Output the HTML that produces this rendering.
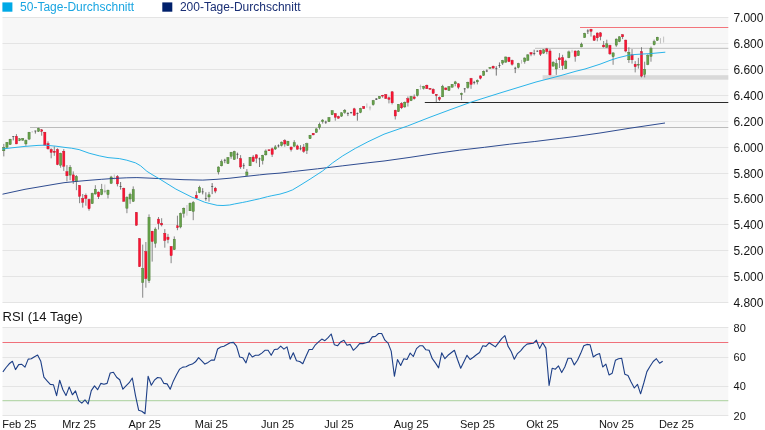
<!DOCTYPE html><html><head><meta charset="utf-8"><title>Chart</title><style>
html,body{margin:0;padding:0;background:#fff}body{width:765px;height:430px;overflow:hidden;position:relative;font-family:"Liberation Sans",Arial,sans-serif}
svg{position:absolute;left:0;top:0;display:block}text{font-family:"Liberation Sans",Arial,sans-serif}
</style></head><body>
<svg width="765" height="430" viewBox="0 0 765 430" style="will-change:transform">
<rect x="0" y="0" width="765" height="430" fill="#ffffff"/>
<rect x="2.5" y="17" width="725.8" height="286" fill="#f7f7f7"/>
<rect x="2.5" y="327" width="725.8" height="89" fill="#f7f7f7"/>
<g fill="#e4e4e4">
<rect x="2.5" y="17" width="725.8" height="1"/>
<rect x="2.5" y="43" width="725.8" height="1"/>
<rect x="2.5" y="69" width="725.8" height="1"/>
<rect x="2.5" y="95" width="725.8" height="1"/>
<rect x="2.5" y="121" width="725.8" height="1"/>
<rect x="2.5" y="147" width="725.8" height="1"/>
<rect x="2.5" y="173" width="725.8" height="1"/>
<rect x="2.5" y="198" width="725.8" height="1"/>
<rect x="2.5" y="224" width="725.8" height="1"/>
<rect x="2.5" y="250" width="725.8" height="1"/>
<rect x="2.5" y="276" width="725.8" height="1"/>
<rect x="2.5" y="302" width="725.8" height="1"/>
<rect x="2.5" y="327" width="725.8" height="1"/>
<rect x="2.5" y="357" width="725.8" height="1"/>
<rect x="2.5" y="386" width="725.8" height="1"/>
<rect x="2.5" y="415" width="725.8" height="1"/>
</g>
<g font-size="12" fill="#141414">
<text x="733.4" y="21.80">7.000</text>
<text x="733.4" y="47.80">6.800</text>
<text x="733.4" y="73.80">6.600</text>
<text x="733.4" y="99.80">6.400</text>
<text x="733.4" y="125.80">6.200</text>
<text x="733.4" y="151.80">6.000</text>
<text x="733.4" y="177.80">5.800</text>
<text x="733.4" y="202.80">5.600</text>
<text x="733.4" y="228.80">5.400</text>
<text x="733.4" y="254.80">5.200</text>
<text x="733.4" y="280.80">5.000</text>
<text x="733.4" y="306.80">4.800</text>
<text x="733.6" y="332.20" font-size="11">80</text>
<text x="733.6" y="361.40" font-size="11">60</text>
<text x="733.6" y="390.40" font-size="11">40</text>
<text x="733.6" y="420.00" font-size="11">20</text>
</g>
<line x1="30" y1="127.5" x2="728.3" y2="127.5" stroke="#bcbcbc" stroke-width="1"/>
<rect x="542.6" y="75.2" width="185.7" height="4.5" fill="#d9d9d9"/>
<line x1="535" y1="48.35" x2="728.3" y2="48.35" stroke="#c9c9c9" stroke-width="1.15"/>
<line x1="580" y1="27.5" x2="728.3" y2="27.5" stroke="#f2646c" stroke-width="0.9"/>
<line x1="424.8" y1="102.5" x2="728.3" y2="102.5" stroke="#2a2a2a" stroke-width="1"/>
<line x1="3.80" y1="143.9" x2="3.80" y2="156.4" stroke="#555555" stroke-width="0.7"/>
<rect x="2.70" y="147.6" width="2.2" height="3.2" fill="#66a24a" stroke="#44742e" stroke-width="0.4"/>
<line x1="6.96" y1="142.0" x2="6.96" y2="147.6" stroke="#555555" stroke-width="0.7"/>
<rect x="5.86" y="142.4" width="2.2" height="5.0" fill="#66a24a" stroke="#44742e" stroke-width="0.4"/>
<line x1="10.11" y1="138.8" x2="10.11" y2="144.9" stroke="#555555" stroke-width="0.7"/>
<rect x="9.01" y="139.2" width="2.2" height="5.3" fill="#66a24a" stroke="#44742e" stroke-width="0.4"/>
<line x1="13.27" y1="136.1" x2="13.27" y2="140.4" stroke="#3a3a3a" stroke-width="0.7"/>
<rect x="12.17" y="136.4" width="2.2" height="0.6" fill="#3a3a3a"/>
<line x1="16.43" y1="134.1" x2="16.43" y2="144.1" stroke="#555555" stroke-width="0.7"/>
<rect x="15.33" y="136.3" width="2.2" height="7.6" fill="#fa1432" stroke="#c4102a" stroke-width="0.4"/>
<line x1="19.59" y1="138.2" x2="19.59" y2="141.1" stroke="#555555" stroke-width="0.7"/>
<rect x="18.48" y="138.8" width="2.2" height="1.6" fill="#66a24a" stroke="#44742e" stroke-width="0.4"/>
<line x1="22.74" y1="138.0" x2="22.74" y2="140.9" stroke="#555555" stroke-width="0.7"/>
<rect x="21.64" y="138.6" width="2.2" height="1.5" fill="#66a24a" stroke="#44742e" stroke-width="0.4"/>
<line x1="25.90" y1="139.5" x2="25.90" y2="145.8" stroke="#555555" stroke-width="0.7"/>
<rect x="24.80" y="140.4" width="2.2" height="3.5" fill="#66a24a" stroke="#44742e" stroke-width="0.4"/>
<line x1="29.06" y1="131.9" x2="29.06" y2="140.1" stroke="#555555" stroke-width="0.7"/>
<rect x="27.96" y="132.3" width="2.2" height="6.8" fill="#66a24a" stroke="#44742e" stroke-width="0.4"/>
<line x1="32.21" y1="131.1" x2="32.21" y2="132.6" stroke="#a9a9a9" stroke-width="0.7"/>
<line x1="35.37" y1="130.7" x2="35.37" y2="133.6" stroke="#3a3a3a" stroke-width="0.7"/>
<rect x="34.27" y="130.7" width="2.2" height="0.6" fill="#3a3a3a"/>
<line x1="38.53" y1="127.8" x2="38.53" y2="131.9" stroke="#555555" stroke-width="0.7"/>
<rect x="37.43" y="128.5" width="2.2" height="2.8" fill="#66a24a" stroke="#44742e" stroke-width="0.4"/>
<line x1="41.68" y1="129.0" x2="41.68" y2="135.7" stroke="#555555" stroke-width="0.7"/>
<rect x="40.58" y="129.8" width="2.2" height="1.5" fill="#fa1432" stroke="#c4102a" stroke-width="0.4"/>
<line x1="44.84" y1="131.9" x2="44.84" y2="145.4" stroke="#555555" stroke-width="0.7"/>
<rect x="43.74" y="132.2" width="2.2" height="12.9" fill="#fa1432" stroke="#c4102a" stroke-width="0.4"/>
<line x1="48.00" y1="141.4" x2="48.00" y2="149.5" stroke="#555555" stroke-width="0.7"/>
<rect x="46.90" y="143.6" width="2.2" height="5.3" fill="#fa1432" stroke="#c4102a" stroke-width="0.4"/>
<line x1="51.16" y1="148.3" x2="51.16" y2="158.3" stroke="#555555" stroke-width="0.7"/>
<rect x="50.05" y="149.5" width="2.2" height="2.9" fill="#fa1432" stroke="#c4102a" stroke-width="0.4"/>
<line x1="54.31" y1="146.4" x2="54.31" y2="155.8" stroke="#555555" stroke-width="0.7"/>
<rect x="53.21" y="151.2" width="2.2" height="1.2" fill="#fa1432" stroke="#c4102a" stroke-width="0.4"/>
<line x1="57.47" y1="148.3" x2="57.47" y2="165.2" stroke="#555555" stroke-width="0.7"/>
<rect x="56.37" y="149.5" width="2.2" height="15.1" fill="#fa1432" stroke="#c4102a" stroke-width="0.4"/>
<line x1="60.63" y1="152.7" x2="60.63" y2="167.7" stroke="#555555" stroke-width="0.7"/>
<rect x="59.53" y="153.3" width="2.2" height="11.9" fill="#66a24a" stroke="#44742e" stroke-width="0.4"/>
<line x1="63.78" y1="149.1" x2="63.78" y2="170.9" stroke="#555555" stroke-width="0.7"/>
<rect x="62.68" y="151.2" width="2.2" height="15.0" fill="#fa1432" stroke="#c4102a" stroke-width="0.4"/>
<line x1="66.94" y1="165.1" x2="66.94" y2="181.4" stroke="#555555" stroke-width="0.7"/>
<rect x="65.84" y="171.6" width="2.2" height="4.2" fill="#fa1432" stroke="#c4102a" stroke-width="0.4"/>
<line x1="70.10" y1="165.1" x2="70.10" y2="180.2" stroke="#555555" stroke-width="0.7"/>
<rect x="69.00" y="167.3" width="2.2" height="7.8" fill="#66a24a" stroke="#44742e" stroke-width="0.4"/>
<line x1="73.25" y1="171.4" x2="73.25" y2="183.9" stroke="#555555" stroke-width="0.7"/>
<rect x="72.15" y="174.9" width="2.2" height="5.9" fill="#fa1432" stroke="#c4102a" stroke-width="0.4"/>
<line x1="76.41" y1="175.1" x2="76.41" y2="190.2" stroke="#555555" stroke-width="0.7"/>
<rect x="75.31" y="176.6" width="2.2" height="5.1" fill="#66a24a" stroke="#44742e" stroke-width="0.4"/>
<line x1="79.57" y1="185.2" x2="79.57" y2="203.2" stroke="#555555" stroke-width="0.7"/>
<rect x="78.47" y="185.4" width="2.2" height="10.9" fill="#fa1432" stroke="#c4102a" stroke-width="0.4"/>
<line x1="82.72" y1="194.0" x2="82.72" y2="207.6" stroke="#555555" stroke-width="0.7"/>
<rect x="81.62" y="198.5" width="2.2" height="3.8" fill="#fa1432" stroke="#c4102a" stroke-width="0.4"/>
<line x1="85.88" y1="193.5" x2="85.88" y2="205.7" stroke="#555555" stroke-width="0.7"/>
<rect x="84.78" y="195.3" width="2.2" height="3.2" fill="#fa1432" stroke="#c4102a" stroke-width="0.4"/>
<line x1="89.04" y1="198.7" x2="89.04" y2="210.7" stroke="#555555" stroke-width="0.7"/>
<rect x="87.94" y="199.4" width="2.2" height="9.4" fill="#fa1432" stroke="#c4102a" stroke-width="0.4"/>
<line x1="92.20" y1="192.7" x2="92.20" y2="203.8" stroke="#555555" stroke-width="0.7"/>
<rect x="91.10" y="193.5" width="2.2" height="10.1" fill="#66a24a" stroke="#44742e" stroke-width="0.4"/>
<line x1="95.35" y1="185.2" x2="95.35" y2="194.6" stroke="#555555" stroke-width="0.7"/>
<rect x="94.25" y="189.2" width="2.2" height="4.8" fill="#66a24a" stroke="#44742e" stroke-width="0.4"/>
<line x1="98.51" y1="191.5" x2="98.51" y2="199.0" stroke="#555555" stroke-width="0.7"/>
<rect x="97.41" y="192.1" width="2.2" height="4.6" fill="#fa1432" stroke="#c4102a" stroke-width="0.4"/>
<line x1="101.67" y1="183.9" x2="101.67" y2="195.2" stroke="#555555" stroke-width="0.7"/>
<rect x="100.57" y="189.2" width="2.2" height="5.4" fill="#66a24a" stroke="#44742e" stroke-width="0.4"/>
<line x1="104.82" y1="184.5" x2="104.82" y2="193.3" stroke="#a9a9a9" stroke-width="0.7"/>
<rect x="103.72" y="190.5" width="2.2" height="1.6" fill="#a9a9a9"/>
<line x1="107.98" y1="189.6" x2="107.98" y2="198.4" stroke="#555555" stroke-width="0.7"/>
<rect x="106.88" y="190.2" width="2.2" height="4.4" fill="#66a24a" stroke="#44742e" stroke-width="0.4"/>
<line x1="111.14" y1="175.8" x2="111.14" y2="183.9" stroke="#555555" stroke-width="0.7"/>
<rect x="110.04" y="177.0" width="2.2" height="6.3" fill="#66a24a" stroke="#44742e" stroke-width="0.4"/>
<line x1="114.30" y1="174.5" x2="114.30" y2="179.5" stroke="#a9a9a9" stroke-width="0.7"/>
<line x1="117.45" y1="175.1" x2="117.45" y2="186.4" stroke="#555555" stroke-width="0.7"/>
<rect x="116.35" y="176.6" width="2.2" height="7.3" fill="#fa1432" stroke="#c4102a" stroke-width="0.4"/>
<line x1="120.61" y1="182.0" x2="120.61" y2="189.6" stroke="#3a3a3a" stroke-width="0.7"/>
<rect x="119.51" y="186.1" width="2.2" height="0.6" fill="#3a3a3a"/>
<line x1="123.77" y1="187.7" x2="123.77" y2="201.6" stroke="#555555" stroke-width="0.7"/>
<rect x="122.67" y="188.3" width="2.2" height="13.0" fill="#fa1432" stroke="#c4102a" stroke-width="0.4"/>
<line x1="126.92" y1="196.3" x2="126.92" y2="213.2" stroke="#555555" stroke-width="0.7"/>
<rect x="125.82" y="197.3" width="2.2" height="10.9" fill="#66a24a" stroke="#44742e" stroke-width="0.4"/>
<line x1="130.08" y1="192.7" x2="130.08" y2="203.8" stroke="#555555" stroke-width="0.7"/>
<rect x="128.98" y="194.4" width="2.2" height="4.6" fill="#66a24a" stroke="#44742e" stroke-width="0.4"/>
<line x1="133.24" y1="186.4" x2="133.24" y2="202.0" stroke="#555555" stroke-width="0.7"/>
<rect x="132.14" y="189.6" width="2.2" height="11.7" fill="#66a24a" stroke="#44742e" stroke-width="0.4"/>
<line x1="136.39" y1="212.0" x2="136.39" y2="225.8" stroke="#555555" stroke-width="0.7"/>
<rect x="135.29" y="212.4" width="2.2" height="12.8" fill="#fa1432" stroke="#c4102a" stroke-width="0.4"/>
<line x1="139.55" y1="238.0" x2="139.55" y2="267.0" stroke="#555555" stroke-width="0.7"/>
<rect x="138.45" y="238.7" width="2.2" height="27.9" fill="#fa1432" stroke="#c4102a" stroke-width="0.4"/>
<line x1="142.71" y1="244.6" x2="142.71" y2="297.7" stroke="#555555" stroke-width="0.7"/>
<rect x="141.61" y="268.6" width="2.2" height="13.8" fill="#66a24a" stroke="#44742e" stroke-width="0.4"/>
<line x1="145.87" y1="242.0" x2="145.87" y2="287.7" stroke="#555555" stroke-width="0.7"/>
<rect x="144.77" y="251.5" width="2.2" height="27.1" fill="#fa1432" stroke="#c4102a" stroke-width="0.4"/>
<line x1="149.02" y1="214.4" x2="149.02" y2="283.0" stroke="#555555" stroke-width="0.7"/>
<rect x="147.92" y="217.3" width="2.2" height="63.5" fill="#66a24a" stroke="#44742e" stroke-width="0.4"/>
<line x1="152.18" y1="230.8" x2="152.18" y2="261.6" stroke="#555555" stroke-width="0.7"/>
<rect x="151.08" y="231.2" width="2.2" height="10.3" fill="#fa1432" stroke="#c4102a" stroke-width="0.4"/>
<line x1="155.34" y1="227.4" x2="155.34" y2="247.7" stroke="#555555" stroke-width="0.7"/>
<rect x="154.24" y="229.1" width="2.2" height="14.2" fill="#66a24a" stroke="#44742e" stroke-width="0.4"/>
<line x1="158.49" y1="217.0" x2="158.49" y2="229.5" stroke="#555555" stroke-width="0.7"/>
<rect x="157.39" y="219.1" width="2.2" height="4.5" fill="#fa1432" stroke="#c4102a" stroke-width="0.4"/>
<line x1="161.65" y1="218.2" x2="161.65" y2="226.4" stroke="#555555" stroke-width="0.7"/>
<rect x="160.55" y="223.2" width="2.2" height="1.7" fill="#fa1432" stroke="#c4102a" stroke-width="0.4"/>
<line x1="164.81" y1="229.1" x2="164.81" y2="247.7" stroke="#555555" stroke-width="0.7"/>
<rect x="163.71" y="233.3" width="2.2" height="7.2" fill="#fa1432" stroke="#c4102a" stroke-width="0.4"/>
<line x1="167.96" y1="233.9" x2="167.96" y2="243.3" stroke="#555555" stroke-width="0.7"/>
<rect x="166.86" y="237.1" width="2.2" height="2.5" fill="#fa1432" stroke="#c4102a" stroke-width="0.4"/>
<line x1="171.12" y1="246.0" x2="171.12" y2="263.2" stroke="#555555" stroke-width="0.7"/>
<rect x="170.02" y="246.5" width="2.2" height="9.2" fill="#fa1432" stroke="#c4102a" stroke-width="0.4"/>
<line x1="174.28" y1="236.4" x2="174.28" y2="250.0" stroke="#555555" stroke-width="0.7"/>
<rect x="173.18" y="239.2" width="2.2" height="10.4" fill="#66a24a" stroke="#44742e" stroke-width="0.4"/>
<line x1="177.44" y1="215.7" x2="177.44" y2="230.2" stroke="#555555" stroke-width="0.7"/>
<rect x="176.34" y="225.8" width="2.2" height="1.8" fill="#fa1432" stroke="#c4102a" stroke-width="0.4"/>
<line x1="180.59" y1="212.6" x2="180.59" y2="228.3" stroke="#555555" stroke-width="0.7"/>
<rect x="179.49" y="213.6" width="2.2" height="13.4" fill="#66a24a" stroke="#44742e" stroke-width="0.4"/>
<line x1="183.75" y1="207.5" x2="183.75" y2="217.6" stroke="#555555" stroke-width="0.7"/>
<rect x="182.65" y="208.2" width="2.2" height="5.0" fill="#66a24a" stroke="#44742e" stroke-width="0.4"/>
<line x1="186.91" y1="205.0" x2="186.91" y2="215.7" stroke="#a9a9a9" stroke-width="0.7"/>
<line x1="190.06" y1="202.5" x2="190.06" y2="211.0" stroke="#555555" stroke-width="0.7"/>
<rect x="188.96" y="203.2" width="2.2" height="7.6" fill="#66a24a" stroke="#44742e" stroke-width="0.4"/>
<line x1="193.22" y1="201.1" x2="193.22" y2="220.2" stroke="#555555" stroke-width="0.7"/>
<rect x="192.12" y="202.6" width="2.2" height="8.8" fill="#66a24a" stroke="#44742e" stroke-width="0.4"/>
<line x1="196.38" y1="191.3" x2="196.38" y2="198.8" stroke="#555555" stroke-width="0.7"/>
<rect x="195.28" y="195.3" width="2.2" height="2.9" fill="#fa1432" stroke="#c4102a" stroke-width="0.4"/>
<line x1="199.53" y1="185.7" x2="199.53" y2="193.2" stroke="#555555" stroke-width="0.7"/>
<rect x="198.43" y="187.5" width="2.2" height="5.1" fill="#66a24a" stroke="#44742e" stroke-width="0.4"/>
<line x1="202.69" y1="188.2" x2="202.69" y2="194.4" stroke="#3a3a3a" stroke-width="0.7"/>
<rect x="201.59" y="191.6" width="2.2" height="0.6" fill="#3a3a3a"/>
<line x1="205.85" y1="192.3" x2="205.85" y2="200.7" stroke="#3a3a3a" stroke-width="0.7"/>
<rect x="204.75" y="198.3" width="2.2" height="0.6" fill="#3a3a3a"/>
<line x1="209.01" y1="191.9" x2="209.01" y2="201.6" stroke="#555555" stroke-width="0.7"/>
<rect x="207.91" y="194.8" width="2.2" height="2.2" fill="#66a24a" stroke="#44742e" stroke-width="0.4"/>
<line x1="212.16" y1="183.1" x2="212.16" y2="194.1" stroke="#3a3a3a" stroke-width="0.7"/>
<rect x="211.06" y="186.0" width="2.2" height="0.6" fill="#3a3a3a"/>
<line x1="215.32" y1="186.9" x2="215.32" y2="193.2" stroke="#555555" stroke-width="0.7"/>
<rect x="214.22" y="188.2" width="2.2" height="2.9" fill="#fa1432" stroke="#c4102a" stroke-width="0.4"/>
<line x1="218.48" y1="166.4" x2="218.48" y2="174.5" stroke="#555555" stroke-width="0.7"/>
<rect x="217.38" y="167.0" width="2.2" height="5.0" fill="#66a24a" stroke="#44742e" stroke-width="0.4"/>
<line x1="221.63" y1="159.5" x2="221.63" y2="166.4" stroke="#555555" stroke-width="0.7"/>
<rect x="220.53" y="161.6" width="2.2" height="4.2" fill="#66a24a" stroke="#44742e" stroke-width="0.4"/>
<line x1="224.79" y1="158.8" x2="224.79" y2="163.2" stroke="#3a3a3a" stroke-width="0.7"/>
<rect x="223.69" y="159.9" width="2.2" height="0.6" fill="#3a3a3a"/>
<line x1="227.95" y1="157.0" x2="227.95" y2="163.9" stroke="#555555" stroke-width="0.7"/>
<rect x="226.85" y="157.6" width="2.2" height="6.0" fill="#66a24a" stroke="#44742e" stroke-width="0.4"/>
<line x1="231.10" y1="151.9" x2="231.10" y2="158.8" stroke="#555555" stroke-width="0.7"/>
<rect x="230.00" y="152.3" width="2.2" height="4.0" fill="#66a24a" stroke="#44742e" stroke-width="0.4"/>
<line x1="234.26" y1="150.7" x2="234.26" y2="159.8" stroke="#555555" stroke-width="0.7"/>
<rect x="233.16" y="151.6" width="2.2" height="7.9" fill="#66a24a" stroke="#44742e" stroke-width="0.4"/>
<line x1="237.42" y1="152.6" x2="237.42" y2="158.8" stroke="#3a3a3a" stroke-width="0.7"/>
<rect x="236.32" y="153.9" width="2.2" height="0.6" fill="#3a3a3a"/>
<line x1="240.58" y1="155.1" x2="240.58" y2="168.9" stroke="#555555" stroke-width="0.7"/>
<rect x="239.48" y="158.6" width="2.2" height="8.4" fill="#fa1432" stroke="#c4102a" stroke-width="0.4"/>
<line x1="243.73" y1="163.2" x2="243.73" y2="168.9" stroke="#3a3a3a" stroke-width="0.7"/>
<rect x="242.63" y="165.5" width="2.2" height="0.6" fill="#3a3a3a"/>
<line x1="246.89" y1="169.1" x2="246.89" y2="175.8" stroke="#555555" stroke-width="0.7"/>
<rect x="245.79" y="172.0" width="2.2" height="3.2" fill="#66a24a" stroke="#44742e" stroke-width="0.4"/>
<line x1="250.05" y1="157.0" x2="250.05" y2="166.1" stroke="#555555" stroke-width="0.7"/>
<rect x="248.95" y="157.3" width="2.2" height="8.5" fill="#66a24a" stroke="#44742e" stroke-width="0.4"/>
<line x1="253.20" y1="155.1" x2="253.20" y2="162.0" stroke="#555555" stroke-width="0.7"/>
<rect x="252.10" y="157.0" width="2.2" height="4.4" fill="#fa1432" stroke="#c4102a" stroke-width="0.4"/>
<line x1="256.36" y1="154.4" x2="256.36" y2="163.2" stroke="#555555" stroke-width="0.7"/>
<rect x="255.26" y="154.8" width="2.2" height="3.4" fill="#fa1432" stroke="#c4102a" stroke-width="0.4"/>
<line x1="259.52" y1="157.6" x2="259.52" y2="167.0" stroke="#3a3a3a" stroke-width="0.7"/>
<rect x="258.42" y="158.6" width="2.2" height="0.6" fill="#3a3a3a"/>
<line x1="262.67" y1="154.8" x2="262.67" y2="164.5" stroke="#555555" stroke-width="0.7"/>
<rect x="261.57" y="155.3" width="2.2" height="5.4" fill="#66a24a" stroke="#44742e" stroke-width="0.4"/>
<line x1="265.83" y1="149.4" x2="265.83" y2="155.7" stroke="#555555" stroke-width="0.7"/>
<rect x="264.73" y="151.0" width="2.2" height="3.8" fill="#66a24a" stroke="#44742e" stroke-width="0.4"/>
<line x1="268.99" y1="149.5" x2="268.99" y2="151.0" stroke="#555555" stroke-width="0.7"/>
<rect x="267.89" y="149.8" width="2.2" height="0.9" fill="#fa1432" stroke="#c4102a" stroke-width="0.4"/>
<line x1="272.15" y1="147.5" x2="272.15" y2="157.0" stroke="#555555" stroke-width="0.7"/>
<rect x="271.05" y="148.8" width="2.2" height="5.6" fill="#fa1432" stroke="#c4102a" stroke-width="0.4"/>
<line x1="275.30" y1="145.0" x2="275.30" y2="150.0" stroke="#555555" stroke-width="0.7"/>
<rect x="274.20" y="146.9" width="2.2" height="2.1" fill="#66a24a" stroke="#44742e" stroke-width="0.4"/>
<line x1="278.46" y1="144.4" x2="278.46" y2="147.5" stroke="#3a3a3a" stroke-width="0.7"/>
<rect x="277.36" y="145.6" width="2.2" height="0.6" fill="#3a3a3a"/>
<line x1="281.62" y1="141.5" x2="281.62" y2="146.5" stroke="#555555" stroke-width="0.7"/>
<rect x="280.52" y="142.1" width="2.2" height="3.4" fill="#66a24a" stroke="#44742e" stroke-width="0.4"/>
<line x1="284.77" y1="139.2" x2="284.77" y2="146.7" stroke="#555555" stroke-width="0.7"/>
<rect x="283.67" y="140.5" width="2.2" height="3.5" fill="#fa1432" stroke="#c4102a" stroke-width="0.4"/>
<line x1="287.93" y1="140.8" x2="287.93" y2="145.9" stroke="#555555" stroke-width="0.7"/>
<rect x="286.83" y="141.2" width="2.2" height="4.3" fill="#66a24a" stroke="#44742e" stroke-width="0.4"/>
<line x1="291.09" y1="146.5" x2="291.09" y2="151.5" stroke="#555555" stroke-width="0.7"/>
<rect x="289.99" y="147.1" width="2.2" height="2.5" fill="#fa1432" stroke="#c4102a" stroke-width="0.4"/>
<line x1="294.24" y1="140.2" x2="294.24" y2="146.7" stroke="#555555" stroke-width="0.7"/>
<rect x="293.14" y="142.7" width="2.2" height="3.5" fill="#66a24a" stroke="#44742e" stroke-width="0.4"/>
<line x1="297.40" y1="144.6" x2="297.40" y2="149.6" stroke="#555555" stroke-width="0.7"/>
<rect x="296.30" y="145.9" width="2.2" height="3.3" fill="#fa1432" stroke="#c4102a" stroke-width="0.4"/>
<line x1="300.56" y1="145.2" x2="300.56" y2="150.3" stroke="#3a3a3a" stroke-width="0.7"/>
<rect x="299.46" y="148.5" width="2.2" height="0.6" fill="#3a3a3a"/>
<line x1="303.72" y1="144.0" x2="303.72" y2="152.8" stroke="#555555" stroke-width="0.7"/>
<rect x="302.62" y="147.1" width="2.2" height="4.2" fill="#fa1432" stroke="#c4102a" stroke-width="0.4"/>
<line x1="306.87" y1="142.7" x2="306.87" y2="154.0" stroke="#555555" stroke-width="0.7"/>
<rect x="305.77" y="143.7" width="2.2" height="6.6" fill="#66a24a" stroke="#44742e" stroke-width="0.4"/>
<line x1="310.03" y1="134.9" x2="310.03" y2="138.9" stroke="#555555" stroke-width="0.7"/>
<rect x="308.93" y="135.2" width="2.2" height="3.5" fill="#66a24a" stroke="#44742e" stroke-width="0.4"/>
<line x1="313.19" y1="133.0" x2="313.19" y2="135.2" stroke="#555555" stroke-width="0.7"/>
<rect x="312.09" y="133.3" width="2.2" height="1.6" fill="#fa1432" stroke="#c4102a" stroke-width="0.4"/>
<line x1="316.34" y1="128.3" x2="316.34" y2="132.9" stroke="#555555" stroke-width="0.7"/>
<rect x="315.24" y="128.9" width="2.2" height="3.5" fill="#66a24a" stroke="#44742e" stroke-width="0.4"/>
<line x1="319.50" y1="122.6" x2="319.50" y2="129.5" stroke="#555555" stroke-width="0.7"/>
<rect x="318.40" y="124.5" width="2.2" height="2.9" fill="#66a24a" stroke="#44742e" stroke-width="0.4"/>
<line x1="322.66" y1="119.1" x2="322.66" y2="123.6" stroke="#555555" stroke-width="0.7"/>
<rect x="321.56" y="120.1" width="2.2" height="1.5" fill="#66a24a" stroke="#44742e" stroke-width="0.4"/>
<line x1="325.81" y1="120.7" x2="325.81" y2="123.9" stroke="#3a3a3a" stroke-width="0.7"/>
<rect x="324.71" y="121.8" width="2.2" height="0.6" fill="#3a3a3a"/>
<line x1="328.97" y1="117.0" x2="328.97" y2="122.0" stroke="#555555" stroke-width="0.7"/>
<rect x="327.87" y="117.6" width="2.2" height="4.0" fill="#66a24a" stroke="#44742e" stroke-width="0.4"/>
<line x1="332.13" y1="110.3" x2="332.13" y2="115.1" stroke="#555555" stroke-width="0.7"/>
<rect x="331.03" y="110.7" width="2.2" height="4.1" fill="#66a24a" stroke="#44742e" stroke-width="0.4"/>
<line x1="335.29" y1="113.2" x2="335.29" y2="120.7" stroke="#555555" stroke-width="0.7"/>
<rect x="334.19" y="113.6" width="2.2" height="3.7" fill="#fa1432" stroke="#c4102a" stroke-width="0.4"/>
<line x1="338.44" y1="115.7" x2="338.44" y2="118.6" stroke="#555555" stroke-width="0.7"/>
<rect x="337.34" y="116.6" width="2.2" height="1.6" fill="#fa1432" stroke="#c4102a" stroke-width="0.4"/>
<line x1="341.60" y1="112.3" x2="341.60" y2="117.0" stroke="#555555" stroke-width="0.7"/>
<rect x="340.50" y="112.8" width="2.2" height="3.3" fill="#66a24a" stroke="#44742e" stroke-width="0.4"/>
<line x1="344.76" y1="109.0" x2="344.76" y2="113.8" stroke="#555555" stroke-width="0.7"/>
<rect x="343.66" y="110.3" width="2.2" height="2.0" fill="#66a24a" stroke="#44742e" stroke-width="0.4"/>
<line x1="347.91" y1="112.3" x2="347.91" y2="116.1" stroke="#3a3a3a" stroke-width="0.7"/>
<rect x="346.81" y="113.0" width="2.2" height="0.6" fill="#3a3a3a"/>
<line x1="351.07" y1="111.9" x2="351.07" y2="113.8" stroke="#3a3a3a" stroke-width="0.7"/>
<rect x="349.97" y="112.4" width="2.2" height="0.6" fill="#3a3a3a"/>
<line x1="354.23" y1="107.8" x2="354.23" y2="115.7" stroke="#555555" stroke-width="0.7"/>
<rect x="353.13" y="108.8" width="2.2" height="6.5" fill="#fa1432" stroke="#c4102a" stroke-width="0.4"/>
<line x1="357.38" y1="112.5" x2="357.38" y2="120.7" stroke="#3a3a3a" stroke-width="0.7"/>
<rect x="356.28" y="113.0" width="2.2" height="0.6" fill="#3a3a3a"/>
<line x1="360.54" y1="107.8" x2="360.54" y2="113.2" stroke="#555555" stroke-width="0.7"/>
<rect x="359.44" y="108.5" width="2.2" height="4.0" fill="#66a24a" stroke="#44742e" stroke-width="0.4"/>
<line x1="363.70" y1="106.2" x2="363.70" y2="108.9" stroke="#555555" stroke-width="0.7"/>
<rect x="362.60" y="106.5" width="2.2" height="2.1" fill="#fa1432" stroke="#c4102a" stroke-width="0.4"/>
<line x1="366.86" y1="103.4" x2="366.86" y2="107.8" stroke="#a9a9a9" stroke-width="0.7"/>
<line x1="370.01" y1="105.9" x2="370.01" y2="110.3" stroke="#a9a9a9" stroke-width="0.7"/>
<rect x="368.91" y="107.6" width="2.2" height="0.6" fill="#a9a9a9"/>
<line x1="373.17" y1="99.9" x2="373.17" y2="105.7" stroke="#555555" stroke-width="0.7"/>
<rect x="372.07" y="100.6" width="2.2" height="4.1" fill="#66a24a" stroke="#44742e" stroke-width="0.4"/>
<line x1="376.33" y1="98.3" x2="376.33" y2="99.9" stroke="#3a3a3a" stroke-width="0.7"/>
<rect x="375.23" y="98.6" width="2.2" height="1.0" fill="#3a3a3a"/>
<line x1="379.48" y1="96.2" x2="379.48" y2="98.9" stroke="#555555" stroke-width="0.7"/>
<rect x="378.38" y="96.5" width="2.2" height="2.1" fill="#66a24a" stroke="#44742e" stroke-width="0.4"/>
<line x1="382.64" y1="94.9" x2="382.64" y2="97.8" stroke="#555555" stroke-width="0.7"/>
<rect x="381.54" y="95.2" width="2.2" height="0.9" fill="#fa1432" stroke="#c4102a" stroke-width="0.4"/>
<line x1="385.80" y1="94.0" x2="385.80" y2="99.0" stroke="#555555" stroke-width="0.7"/>
<rect x="384.70" y="94.6" width="2.2" height="3.8" fill="#fa1432" stroke="#c4102a" stroke-width="0.4"/>
<line x1="388.95" y1="96.5" x2="388.95" y2="103.4" stroke="#555555" stroke-width="0.7"/>
<rect x="387.85" y="97.8" width="2.2" height="1.6" fill="#fa1432" stroke="#c4102a" stroke-width="0.4"/>
<line x1="392.11" y1="91.1" x2="392.11" y2="104.4" stroke="#555555" stroke-width="0.7"/>
<rect x="391.01" y="91.8" width="2.2" height="11.0" fill="#fa1432" stroke="#c4102a" stroke-width="0.4"/>
<line x1="395.27" y1="109.7" x2="395.27" y2="119.5" stroke="#555555" stroke-width="0.7"/>
<rect x="394.17" y="110.3" width="2.2" height="5.7" fill="#fa1432" stroke="#c4102a" stroke-width="0.4"/>
<line x1="398.43" y1="104.0" x2="398.43" y2="112.0" stroke="#555555" stroke-width="0.7"/>
<rect x="397.32" y="104.4" width="2.2" height="7.2" fill="#66a24a" stroke="#44742e" stroke-width="0.4"/>
<line x1="401.58" y1="102.2" x2="401.58" y2="109.1" stroke="#555555" stroke-width="0.7"/>
<rect x="400.48" y="103.4" width="2.2" height="4.4" fill="#fa1432" stroke="#c4102a" stroke-width="0.4"/>
<line x1="404.74" y1="101.5" x2="404.74" y2="107.8" stroke="#555555" stroke-width="0.7"/>
<rect x="403.64" y="102.2" width="2.2" height="4.7" fill="#66a24a" stroke="#44742e" stroke-width="0.4"/>
<line x1="407.90" y1="96.5" x2="407.90" y2="106.5" stroke="#555555" stroke-width="0.7"/>
<rect x="406.80" y="98.6" width="2.2" height="3.8" fill="#fa1432" stroke="#c4102a" stroke-width="0.4"/>
<line x1="411.05" y1="95.9" x2="411.05" y2="101.1" stroke="#555555" stroke-width="0.7"/>
<rect x="409.95" y="96.5" width="2.2" height="4.1" fill="#66a24a" stroke="#44742e" stroke-width="0.4"/>
<line x1="414.21" y1="94.4" x2="414.21" y2="99.6" stroke="#555555" stroke-width="0.7"/>
<rect x="413.11" y="96.9" width="2.2" height="1.7" fill="#fa1432" stroke="#c4102a" stroke-width="0.4"/>
<line x1="417.37" y1="89.0" x2="417.37" y2="96.5" stroke="#555555" stroke-width="0.7"/>
<rect x="416.27" y="89.3" width="2.2" height="6.3" fill="#66a24a" stroke="#44742e" stroke-width="0.4"/>
<line x1="420.52" y1="84.6" x2="420.52" y2="89.6" stroke="#a9a9a9" stroke-width="0.7"/>
<rect x="419.42" y="86.2" width="2.2" height="0.6" fill="#a9a9a9"/>
<line x1="423.68" y1="85.8" x2="423.68" y2="89.6" stroke="#555555" stroke-width="0.7"/>
<rect x="422.58" y="86.4" width="2.2" height="1.9" fill="#66a24a" stroke="#44742e" stroke-width="0.4"/>
<line x1="426.84" y1="84.6" x2="426.84" y2="89.0" stroke="#555555" stroke-width="0.7"/>
<rect x="425.74" y="85.2" width="2.2" height="3.4" fill="#fa1432" stroke="#c4102a" stroke-width="0.4"/>
<line x1="430.00" y1="88.0" x2="430.00" y2="89.6" stroke="#555555" stroke-width="0.7"/>
<rect x="428.89" y="88.3" width="2.2" height="1.0" fill="#fa1432" stroke="#c4102a" stroke-width="0.4"/>
<line x1="433.15" y1="88.3" x2="433.15" y2="94.0" stroke="#555555" stroke-width="0.7"/>
<rect x="432.05" y="89.3" width="2.2" height="4.1" fill="#fa1432" stroke="#c4102a" stroke-width="0.4"/>
<line x1="436.31" y1="94.0" x2="436.31" y2="102.2" stroke="#555555" stroke-width="0.7"/>
<rect x="435.21" y="94.4" width="2.2" height="1.2" fill="#fa1432" stroke="#c4102a" stroke-width="0.4"/>
<line x1="439.47" y1="96.5" x2="439.47" y2="101.1" stroke="#555555" stroke-width="0.7"/>
<rect x="438.37" y="97.4" width="2.2" height="2.0" fill="#fa1432" stroke="#c4102a" stroke-width="0.4"/>
<line x1="442.62" y1="84.8" x2="442.62" y2="97.1" stroke="#555555" stroke-width="0.7"/>
<rect x="441.52" y="86.4" width="2.2" height="10.4" fill="#66a24a" stroke="#44742e" stroke-width="0.4"/>
<line x1="445.78" y1="87.4" x2="445.78" y2="90.2" stroke="#555555" stroke-width="0.7"/>
<rect x="444.68" y="88.0" width="2.2" height="1.7" fill="#fa1432" stroke="#c4102a" stroke-width="0.4"/>
<line x1="448.94" y1="86.0" x2="448.94" y2="90.8" stroke="#555555" stroke-width="0.7"/>
<rect x="447.84" y="86.7" width="2.2" height="3.8" fill="#66a24a" stroke="#44742e" stroke-width="0.4"/>
<line x1="452.09" y1="84.0" x2="452.09" y2="87.5" stroke="#555555" stroke-width="0.7"/>
<rect x="450.99" y="84.4" width="2.2" height="2.8" fill="#66a24a" stroke="#44742e" stroke-width="0.4"/>
<line x1="455.25" y1="80.9" x2="455.25" y2="86.3" stroke="#555555" stroke-width="0.7"/>
<rect x="454.15" y="81.9" width="2.2" height="1.9" fill="#66a24a" stroke="#44742e" stroke-width="0.4"/>
<line x1="458.41" y1="83.2" x2="458.41" y2="89.2" stroke="#555555" stroke-width="0.7"/>
<rect x="457.31" y="83.8" width="2.2" height="3.4" fill="#fa1432" stroke="#c4102a" stroke-width="0.4"/>
<line x1="461.56" y1="92.6" x2="461.56" y2="100.1" stroke="#555555" stroke-width="0.7"/>
<rect x="460.46" y="93.5" width="2.2" height="1.2" fill="#66a24a" stroke="#44742e" stroke-width="0.4"/>
<line x1="464.72" y1="88.0" x2="464.72" y2="92.6" stroke="#3a3a3a" stroke-width="0.7"/>
<rect x="463.62" y="88.6" width="2.2" height="0.6" fill="#3a3a3a"/>
<line x1="467.88" y1="81.7" x2="467.88" y2="88.8" stroke="#555555" stroke-width="0.7"/>
<rect x="466.78" y="82.2" width="2.2" height="5.4" fill="#66a24a" stroke="#44742e" stroke-width="0.4"/>
<line x1="471.04" y1="77.9" x2="471.04" y2="88.8" stroke="#555555" stroke-width="0.7"/>
<rect x="469.94" y="78.4" width="2.2" height="6.0" fill="#fa1432" stroke="#c4102a" stroke-width="0.4"/>
<line x1="474.19" y1="80.9" x2="474.19" y2="84.4" stroke="#3a3a3a" stroke-width="0.7"/>
<rect x="473.09" y="82.0" width="2.2" height="0.6" fill="#3a3a3a"/>
<line x1="477.35" y1="79.4" x2="477.35" y2="84.4" stroke="#555555" stroke-width="0.7"/>
<rect x="476.25" y="80.4" width="2.2" height="1.5" fill="#66a24a" stroke="#44742e" stroke-width="0.4"/>
<line x1="480.51" y1="75.4" x2="480.51" y2="79.4" stroke="#555555" stroke-width="0.7"/>
<rect x="479.41" y="75.9" width="2.2" height="2.3" fill="#fa1432" stroke="#c4102a" stroke-width="0.4"/>
<line x1="483.66" y1="70.4" x2="483.66" y2="75.9" stroke="#555555" stroke-width="0.7"/>
<rect x="482.56" y="71.2" width="2.2" height="4.2" fill="#66a24a" stroke="#44742e" stroke-width="0.4"/>
<line x1="486.82" y1="69.4" x2="486.82" y2="72.1" stroke="#3a3a3a" stroke-width="0.7"/>
<rect x="485.72" y="70.7" width="2.2" height="0.6" fill="#3a3a3a"/>
<line x1="489.98" y1="67.2" x2="489.98" y2="68.7" stroke="#555555" stroke-width="0.7"/>
<rect x="488.88" y="67.5" width="2.2" height="0.9" fill="#66a24a" stroke="#44742e" stroke-width="0.4"/>
<line x1="493.13" y1="65.6" x2="493.13" y2="68.7" stroke="#555555" stroke-width="0.7"/>
<rect x="492.03" y="66.2" width="2.2" height="1.9" fill="#fa1432" stroke="#c4102a" stroke-width="0.4"/>
<line x1="496.29" y1="66.2" x2="496.29" y2="75.6" stroke="#3a3a3a" stroke-width="0.7"/>
<rect x="495.19" y="68.5" width="2.2" height="0.6" fill="#3a3a3a"/>
<line x1="499.45" y1="62.4" x2="499.45" y2="67.8" stroke="#3a3a3a" stroke-width="0.7"/>
<rect x="498.35" y="65.1" width="2.2" height="0.6" fill="#3a3a3a"/>
<line x1="502.61" y1="59.9" x2="502.61" y2="65.0" stroke="#555555" stroke-width="0.7"/>
<rect x="501.51" y="60.6" width="2.2" height="2.5" fill="#66a24a" stroke="#44742e" stroke-width="0.4"/>
<line x1="505.76" y1="56.5" x2="505.76" y2="62.8" stroke="#555555" stroke-width="0.7"/>
<rect x="504.66" y="57.0" width="2.2" height="5.1" fill="#66a24a" stroke="#44742e" stroke-width="0.4"/>
<line x1="508.92" y1="56.8" x2="508.92" y2="62.1" stroke="#555555" stroke-width="0.7"/>
<rect x="507.82" y="57.4" width="2.2" height="4.2" fill="#fa1432" stroke="#c4102a" stroke-width="0.4"/>
<line x1="512.08" y1="59.6" x2="512.08" y2="65.6" stroke="#555555" stroke-width="0.7"/>
<rect x="510.98" y="60.3" width="2.2" height="4.0" fill="#fa1432" stroke="#c4102a" stroke-width="0.4"/>
<line x1="515.23" y1="66.8" x2="515.23" y2="73.1" stroke="#3a3a3a" stroke-width="0.7"/>
<rect x="514.13" y="67.9" width="2.2" height="0.6" fill="#3a3a3a"/>
<line x1="518.39" y1="62.8" x2="518.39" y2="68.4" stroke="#555555" stroke-width="0.7"/>
<rect x="517.29" y="63.7" width="2.2" height="3.8" fill="#66a24a" stroke="#44742e" stroke-width="0.4"/>
<line x1="521.55" y1="59.9" x2="521.55" y2="63.7" stroke="#a9a9a9" stroke-width="0.7"/>
<line x1="524.70" y1="57.4" x2="524.70" y2="63.7" stroke="#555555" stroke-width="0.7"/>
<rect x="523.60" y="58.0" width="2.2" height="3.6" fill="#66a24a" stroke="#44742e" stroke-width="0.4"/>
<line x1="527.86" y1="54.0" x2="527.86" y2="60.8" stroke="#555555" stroke-width="0.7"/>
<rect x="526.76" y="54.9" width="2.2" height="5.4" fill="#66a24a" stroke="#44742e" stroke-width="0.4"/>
<line x1="531.02" y1="52.2" x2="531.02" y2="56.2" stroke="#555555" stroke-width="0.7"/>
<rect x="529.92" y="52.6" width="2.2" height="1.5" fill="#fa1432" stroke="#c4102a" stroke-width="0.4"/>
<line x1="534.18" y1="49.7" x2="534.18" y2="55.4" stroke="#3a3a3a" stroke-width="0.7"/>
<rect x="533.08" y="53.4" width="2.2" height="0.6" fill="#3a3a3a"/>
<line x1="537.33" y1="50.4" x2="537.33" y2="51.9" stroke="#3a3a3a" stroke-width="0.7"/>
<rect x="536.23" y="50.8" width="2.2" height="0.6" fill="#3a3a3a"/>
<line x1="540.49" y1="49.8" x2="540.49" y2="56.0" stroke="#555555" stroke-width="0.7"/>
<rect x="539.39" y="50.4" width="2.2" height="3.8" fill="#fa1432" stroke="#c4102a" stroke-width="0.4"/>
<line x1="543.65" y1="49.1" x2="543.65" y2="53.9" stroke="#555555" stroke-width="0.7"/>
<rect x="542.55" y="49.8" width="2.2" height="3.3" fill="#66a24a" stroke="#44742e" stroke-width="0.4"/>
<line x1="546.80" y1="47.9" x2="546.80" y2="54.2" stroke="#555555" stroke-width="0.7"/>
<rect x="545.70" y="48.9" width="2.2" height="2.7" fill="#fa1432" stroke="#c4102a" stroke-width="0.4"/>
<line x1="549.96" y1="49.1" x2="549.96" y2="75.3" stroke="#555555" stroke-width="0.7"/>
<rect x="548.86" y="51.0" width="2.2" height="23.9" fill="#fa1432" stroke="#c4102a" stroke-width="0.4"/>
<line x1="553.12" y1="61.1" x2="553.12" y2="66.7" stroke="#555555" stroke-width="0.7"/>
<rect x="552.02" y="62.3" width="2.2" height="3.8" fill="#66a24a" stroke="#44742e" stroke-width="0.4"/>
<line x1="556.27" y1="59.2" x2="556.27" y2="74.9" stroke="#555555" stroke-width="0.7"/>
<rect x="555.17" y="63.6" width="2.2" height="5.4" fill="#66a24a" stroke="#44742e" stroke-width="0.4"/>
<line x1="559.43" y1="53.1" x2="559.43" y2="68.0" stroke="#555555" stroke-width="0.7"/>
<rect x="558.33" y="57.9" width="2.2" height="1.9" fill="#fa1432" stroke="#c4102a" stroke-width="0.4"/>
<line x1="562.59" y1="54.8" x2="562.59" y2="69.9" stroke="#555555" stroke-width="0.7"/>
<rect x="561.49" y="57.7" width="2.2" height="7.8" fill="#fa1432" stroke="#c4102a" stroke-width="0.4"/>
<line x1="565.75" y1="59.8" x2="565.75" y2="69.0" stroke="#555555" stroke-width="0.7"/>
<rect x="564.65" y="61.1" width="2.2" height="7.5" fill="#66a24a" stroke="#44742e" stroke-width="0.4"/>
<line x1="568.90" y1="50.6" x2="568.90" y2="58.2" stroke="#555555" stroke-width="0.7"/>
<rect x="567.80" y="51.9" width="2.2" height="5.8" fill="#66a24a" stroke="#44742e" stroke-width="0.4"/>
<line x1="572.06" y1="49.8" x2="572.06" y2="52.6" stroke="#a9a9a9" stroke-width="0.7"/>
<line x1="575.22" y1="50.6" x2="575.22" y2="61.7" stroke="#555555" stroke-width="0.7"/>
<rect x="574.12" y="51.0" width="2.2" height="5.4" fill="#fa1432" stroke="#c4102a" stroke-width="0.4"/>
<line x1="578.37" y1="50.1" x2="578.37" y2="56.0" stroke="#555555" stroke-width="0.7"/>
<rect x="577.27" y="51.0" width="2.2" height="4.7" fill="#66a24a" stroke="#44742e" stroke-width="0.4"/>
<line x1="581.53" y1="42.6" x2="581.53" y2="47.2" stroke="#555555" stroke-width="0.7"/>
<rect x="580.43" y="44.1" width="2.2" height="2.8" fill="#66a24a" stroke="#44742e" stroke-width="0.4"/>
<line x1="584.69" y1="32.8" x2="584.69" y2="37.8" stroke="#555555" stroke-width="0.7"/>
<rect x="583.59" y="33.4" width="2.2" height="4.2" fill="#66a24a" stroke="#44742e" stroke-width="0.4"/>
<line x1="587.84" y1="29.3" x2="587.84" y2="34.0" stroke="#3a3a3a" stroke-width="0.7"/>
<rect x="586.74" y="30.7" width="2.2" height="0.6" fill="#3a3a3a"/>
<line x1="591.00" y1="28.8" x2="591.00" y2="36.6" stroke="#555555" stroke-width="0.7"/>
<rect x="589.90" y="29.3" width="2.2" height="2.0" fill="#fa1432" stroke="#c4102a" stroke-width="0.4"/>
<line x1="594.16" y1="35.1" x2="594.16" y2="41.0" stroke="#555555" stroke-width="0.7"/>
<rect x="593.06" y="35.9" width="2.2" height="4.4" fill="#fa1432" stroke="#c4102a" stroke-width="0.4"/>
<line x1="597.32" y1="32.5" x2="597.32" y2="41.3" stroke="#555555" stroke-width="0.7"/>
<rect x="596.22" y="33.0" width="2.2" height="4.8" fill="#fa1432" stroke="#c4102a" stroke-width="0.4"/>
<line x1="600.47" y1="32.2" x2="600.47" y2="40.3" stroke="#555555" stroke-width="0.7"/>
<rect x="599.37" y="32.8" width="2.2" height="3.8" fill="#fa1432" stroke="#c4102a" stroke-width="0.4"/>
<line x1="603.63" y1="41.0" x2="603.63" y2="47.6" stroke="#555555" stroke-width="0.7"/>
<rect x="602.53" y="45.1" width="2.2" height="1.8" fill="#fa1432" stroke="#c4102a" stroke-width="0.4"/>
<line x1="606.79" y1="39.7" x2="606.79" y2="47.9" stroke="#555555" stroke-width="0.7"/>
<rect x="605.69" y="43.8" width="2.2" height="3.4" fill="#66a24a" stroke="#44742e" stroke-width="0.4"/>
<line x1="609.94" y1="44.7" x2="609.94" y2="54.8" stroke="#555555" stroke-width="0.7"/>
<rect x="608.84" y="45.4" width="2.2" height="8.5" fill="#fa1432" stroke="#c4102a" stroke-width="0.4"/>
<line x1="613.10" y1="52.3" x2="613.10" y2="64.8" stroke="#555555" stroke-width="0.7"/>
<rect x="612.00" y="52.9" width="2.2" height="3.8" fill="#66a24a" stroke="#44742e" stroke-width="0.4"/>
<line x1="616.26" y1="38.4" x2="616.26" y2="46.9" stroke="#555555" stroke-width="0.7"/>
<rect x="615.16" y="39.1" width="2.2" height="6.0" fill="#66a24a" stroke="#44742e" stroke-width="0.4"/>
<line x1="619.41" y1="36.3" x2="619.41" y2="42.2" stroke="#555555" stroke-width="0.7"/>
<rect x="618.31" y="36.8" width="2.2" height="4.8" fill="#66a24a" stroke="#44742e" stroke-width="0.4"/>
<line x1="622.57" y1="34.3" x2="622.57" y2="39.1" stroke="#555555" stroke-width="0.7"/>
<rect x="621.47" y="34.7" width="2.2" height="2.1" fill="#fa1432" stroke="#c4102a" stroke-width="0.4"/>
<line x1="625.73" y1="39.7" x2="625.73" y2="52.3" stroke="#555555" stroke-width="0.7"/>
<rect x="624.63" y="40.1" width="2.2" height="10.9" fill="#fa1432" stroke="#c4102a" stroke-width="0.4"/>
<line x1="628.89" y1="47.2" x2="628.89" y2="62.9" stroke="#555555" stroke-width="0.7"/>
<rect x="627.79" y="52.3" width="2.2" height="7.5" fill="#66a24a" stroke="#44742e" stroke-width="0.4"/>
<line x1="632.04" y1="49.1" x2="632.04" y2="63.6" stroke="#555555" stroke-width="0.7"/>
<rect x="630.94" y="54.8" width="2.2" height="5.0" fill="#fa1432" stroke="#c4102a" stroke-width="0.4"/>
<line x1="635.20" y1="61.1" x2="635.20" y2="72.4" stroke="#555555" stroke-width="0.7"/>
<rect x="634.10" y="64.2" width="2.2" height="2.5" fill="#fa1432" stroke="#c4102a" stroke-width="0.4"/>
<line x1="638.36" y1="57.9" x2="638.36" y2="68.6" stroke="#555555" stroke-width="0.7"/>
<rect x="637.26" y="64.5" width="2.2" height="0.6" fill="#66a24a" stroke="#44742e" stroke-width="0.4"/>
<line x1="641.51" y1="47.2" x2="641.51" y2="77.4" stroke="#555555" stroke-width="0.7"/>
<rect x="640.41" y="51.6" width="2.2" height="24.5" fill="#fa1432" stroke="#c4102a" stroke-width="0.4"/>
<line x1="644.67" y1="61.7" x2="644.67" y2="77.4" stroke="#555555" stroke-width="0.7"/>
<rect x="643.57" y="69.2" width="2.2" height="5.3" fill="#66a24a" stroke="#44742e" stroke-width="0.4"/>
<line x1="647.83" y1="54.2" x2="647.83" y2="65.2" stroke="#555555" stroke-width="0.7"/>
<rect x="646.73" y="55.4" width="2.2" height="9.1" fill="#66a24a" stroke="#44742e" stroke-width="0.4"/>
<line x1="650.99" y1="46.6" x2="650.99" y2="61.7" stroke="#555555" stroke-width="0.7"/>
<rect x="649.88" y="48.5" width="2.2" height="7.9" fill="#66a24a" stroke="#44742e" stroke-width="0.4"/>
<line x1="654.14" y1="39.7" x2="654.14" y2="45.4" stroke="#555555" stroke-width="0.7"/>
<rect x="653.04" y="41.6" width="2.2" height="3.1" fill="#66a24a" stroke="#44742e" stroke-width="0.4"/>
<line x1="657.30" y1="36.8" x2="657.30" y2="41.0" stroke="#555555" stroke-width="0.7"/>
<rect x="656.20" y="37.2" width="2.2" height="3.1" fill="#66a24a" stroke="#44742e" stroke-width="0.4"/>
<line x1="660.46" y1="38.1" x2="660.46" y2="43.5" stroke="#a9a9a9" stroke-width="0.7"/>
<line x1="663.61" y1="36.6" x2="663.61" y2="42.6" stroke="#a9a9a9" stroke-width="0.7"/>
<path d="M2.5,194.2 L25.0,189.3 L56.0,184.0 L64.0,182.7 L76.6,181.4 L89.0,180.3 L101.7,179.3 L114.3,178.4 L126.8,177.8 L136.9,177.6 L147.0,178.0 L160.0,178.6 L184.0,179.7 L202.8,180.1 L217.0,179.3 L230.0,178.2 L242.0,176.8 L259.4,174.9 L267.0,174.1 L280.0,173.1 L292.5,171.6 L317.6,168.8 L342.8,165.8 L367.9,162.8 L384.0,161.0 L409.0,157.5 L434.0,153.7 L459.4,150.2 L484.5,147.3 L509.6,144.2 L534.8,141.5 L559.9,138.4 L576.0,136.4 L600.0,133.0 L630.0,128.2 L665.0,123.0" fill="none" stroke="#24428a" stroke-width="0.95" stroke-linejoin="round"/>
<path d="M2.5,149.0 L12.0,147.8 L25.0,146.4 L38.0,145.4 L45.0,145.2 L56.0,146.2 L64.0,147.3 L71.5,148.2 L79.1,149.6 L89.1,153.2 L99.2,155.8 L108.0,157.6 L119.3,158.6 L126.8,160.2 L135.6,162.9 L140.6,165.8 L146.9,171.3 L152.0,174.5 L160.0,179.2 L168.0,184.2 L175.9,189.1 L184.0,193.2 L192.0,197.2 L196.6,198.9 L204.6,202.2 L209.1,203.4 L217.1,205.3 L223.0,205.5 L229.7,205.0 L234.3,204.0 L242.3,202.5 L246.8,201.6 L254.8,199.8 L259.4,198.8 L267.4,196.7 L271.9,195.7 L280.0,194.1 L287.0,192.0 L292.5,189.9 L300.0,185.4 L310.1,179.1 L322.7,170.9 L332.7,162.8 L342.8,155.8 L355.3,148.4 L367.9,141.8 L384.0,134.2 L407.5,126.0 L430.0,117.2 L452.0,109.0 L471.4,102.0 L500.0,93.0 L536.0,82.0 L560.0,75.8 L576.0,71.2 L585.0,69.0 L600.0,64.2 L610.0,60.4 L618.0,57.8 L627.8,55.4 L635.0,54.5 L642.9,54.0 L650.3,53.6 L665.3,52.2" fill="none" stroke="#1fb0e8" stroke-width="0.95" stroke-linejoin="round"/>
<line x1="2.5" y1="342.5" x2="728.3" y2="342.5" stroke="#f0707a" stroke-width="1"/>
<line x1="2.5" y1="400.7" x2="728.3" y2="400.7" stroke="#b9d8ae" stroke-width="1.3"/>
<path d="M2.9,371.8 L6.1,367.5 L9.2,363.8 L12.4,361.3 L15.5,369.6 L18.7,364.6 L21.8,364.3 L25.0,367.1 L28.2,359.1 L31.3,358.8 L34.5,356.7 L37.6,355.1 L40.8,361.3 L43.9,377.2 L47.1,380.9 L50.3,384.4 L53.4,384.7 L56.6,395.6 L59.7,380.2 L62.9,389.7 L66.0,395.6 L69.2,386.9 L72.4,394.8 L75.5,390.9 L78.7,400.6 L81.8,403.1 L85.0,399.8 L88.1,404.0 L91.3,390.6 L94.5,385.9 L97.6,389.7 L100.8,383.4 L103.9,384.2 L107.1,383.4 L110.2,373.0 L113.4,372.2 L116.6,377.2 L119.7,379.7 L122.9,389.2 L126.0,385.9 L129.2,382.7 L132.3,378.0 L135.5,395.6 L138.7,410.3 L141.8,411.2 L145.0,413.7 L148.1,376.3 L151.3,385.2 L154.4,380.2 L157.6,377.5 L160.8,378.0 L163.9,383.4 L167.1,383.9 L170.2,389.2 L173.4,380.9 L176.5,374.7 L179.7,369.1 L182.8,367.1 L186.0,366.8 L189.2,365.1 L192.3,364.1 L195.5,361.8 L198.6,357.6 L201.8,360.8 L204.9,364.1 L208.1,362.4 L211.3,360.1 L214.4,360.1 L217.6,349.0 L220.7,347.0 L223.9,346.2 L227.0,344.5 L230.2,342.8 L233.4,342.4 L236.5,346.1 L239.7,357.0 L242.8,357.8 L246.0,362.9 L249.1,352.8 L252.3,357.0 L255.5,355.3 L258.6,355.3 L261.8,353.1 L264.9,350.3 L268.1,350.3 L271.2,355.3 L274.4,349.5 L277.6,349.1 L280.7,346.1 L283.9,349.1 L287.0,346.9 L290.2,359.2 L293.3,352.8 L296.5,360.8 L299.7,361.5 L302.8,363.7 L306.0,356.2 L309.1,349.5 L312.3,349.5 L315.4,344.8 L318.6,341.9 L321.8,339.1 L324.9,340.7 L328.1,337.7 L331.2,334.0 L334.4,344.8 L337.5,345.8 L340.7,341.9 L343.9,340.2 L347.0,345.3 L350.2,344.4 L353.3,350.3 L356.5,347.4 L359.6,343.6 L362.8,343.6 L366.0,342.8 L369.1,341.9 L372.3,336.9 L375.4,336.4 L378.6,333.5 L381.7,333.5 L384.9,340.2 L388.1,343.1 L391.2,351.1 L394.4,376.3 L397.5,359.5 L400.7,365.4 L403.8,358.7 L407.0,359.5 L410.2,353.1 L413.3,356.5 L416.5,348.6 L419.6,345.8 L422.8,345.8 L425.9,349.8 L429.1,350.3 L432.3,358.7 L435.4,362.9 L438.6,367.9 L441.7,352.8 L444.9,358.7 L448.0,355.3 L451.2,352.8 L454.4,350.3 L457.5,359.5 L460.7,368.2 L463.8,362.0 L467.0,355.3 L470.1,359.5 L473.3,357.3 L476.4,354.8 L479.6,352.5 L482.8,345.8 L485.9,346.4 L489.1,342.8 L492.2,344.8 L495.4,346.9 L498.5,342.8 L501.7,338.6 L504.9,335.7 L508.0,346.1 L511.2,351.5 L514.3,359.2 L517.5,353.6 L520.6,350.8 L523.8,346.9 L527.0,344.1 L530.1,343.6 L533.3,343.3 L536.4,340.2 L539.6,348.6 L542.7,342.8 L545.9,348.1 L549.1,385.5 L552.2,368.2 L555.4,369.2 L558.5,365.9 L561.7,372.6 L564.8,367.0 L568.0,358.3 L571.2,358.2 L574.3,364.9 L577.5,360.3 L580.6,353.6 L583.8,345.8 L586.9,344.4 L590.1,344.8 L593.3,357.0 L596.4,354.8 L599.6,353.6 L602.7,367.0 L605.9,364.2 L609.0,374.9 L612.2,373.2 L615.4,360.3 L618.5,358.7 L621.7,358.3 L624.8,374.2 L628.0,375.4 L631.1,382.1 L634.3,388.0 L637.5,384.3 L640.6,393.8 L643.8,383.0 L646.9,371.6 L650.1,366.2 L653.2,361.5 L656.4,358.7 L659.6,363.2 L662.7,361.2" fill="none" stroke="#1d3f87" stroke-width="1.1" stroke-linejoin="round"/>
<rect x="2.4" y="2.4" width="10" height="9.3" fill="#00a9e6"/>
<text x="20.1" y="11.0" font-size="12" fill="#19a5e1">50-Tage-Durchschnitt</text>
<rect x="162.3" y="2.4" width="10" height="9.3" fill="#00206b"/>
<text x="179.9" y="11.1" font-size="12" fill="#1a2f75">200-Tage-Durchschnitt</text>
<text x="2.5" y="320.8" font-size="13" fill="#141414">RSI (14 Tage)</text>
<g font-size="11" fill="#141414">
<text x="2.2" y="428.4">Feb 25</text>
<text x="62.2" y="428.4">Mrz 25</text>
<text x="128.5" y="428.4">Apr 25</text>
<text x="194.8" y="428.4">Mai 25</text>
<text x="261.1" y="428.4">Jun 25</text>
<text x="324.2" y="428.4">Jul 25</text>
<text x="393.7" y="428.4">Aug 25</text>
<text x="460.0" y="428.4">Sep 25</text>
<text x="526.3" y="428.4">Okt 25</text>
<text x="598.9" y="428.4">Nov 25</text>
<text x="658.9" y="428.4">Dez 25</text>
</g>
</svg></body></html>
